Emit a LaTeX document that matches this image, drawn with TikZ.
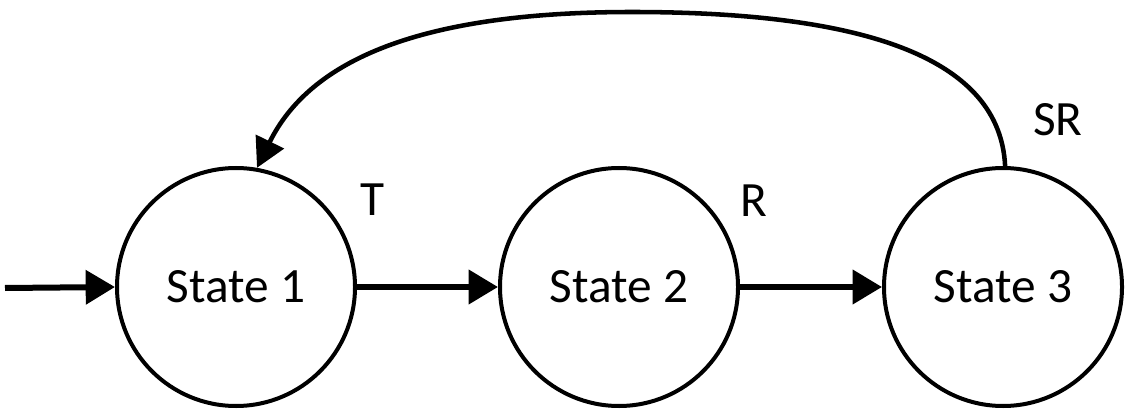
\documentclass[tikz,border=0pt]{standalone}
\usepackage{fontspec}
\setmainfont{Carlito}
\usetikzlibrary{arrows.meta}
\begin{document}
\begin{tikzpicture}[x=0.75pt,y=-0.75pt,
  state/.style={circle,draw,line width=3pt,minimum size=178.5pt,inner sep=0pt,font=\fontsize{37}{44}\selectfont},
  lbl/.style={font=\fontsize{37}{44}\selectfont,inner sep=0pt},
  arr/.style={line width=4.5pt,-{Triangle[length=22pt,width=25pt]}},
  back/.style={line width=3.4pt,-{Triangle[length=22pt,width=23pt]}}]
\useasboundingbox[fill=white] (0,0) rectangle (1130,413);
\node[state] (s1) at (236,287) {State 1};
\node[state] (s2) at (619,287) {State 2};
\node[state] (s3) at (1003,287) {State 3};
\coordinate (in) at (5,288);
\coordinate (top) at (632,12);
\draw[arr] (in) -- (s1.west);
\draw[arr] (s1.east) -- (s2.west);
\draw[arr] (s2.east) -- (s3.west);
\draw[back] (s3.89) .. controls (1000,60) and (870,12) .. (top)
  .. controls (420,12) and (310,60) .. (s1.80);
\node[lbl] (t) at (373,200) {T};
\node[lbl] (r) at (754,201) {R};
\node[lbl] (sr) at (1058,120) {SR};
\end{tikzpicture}
\end{document}
